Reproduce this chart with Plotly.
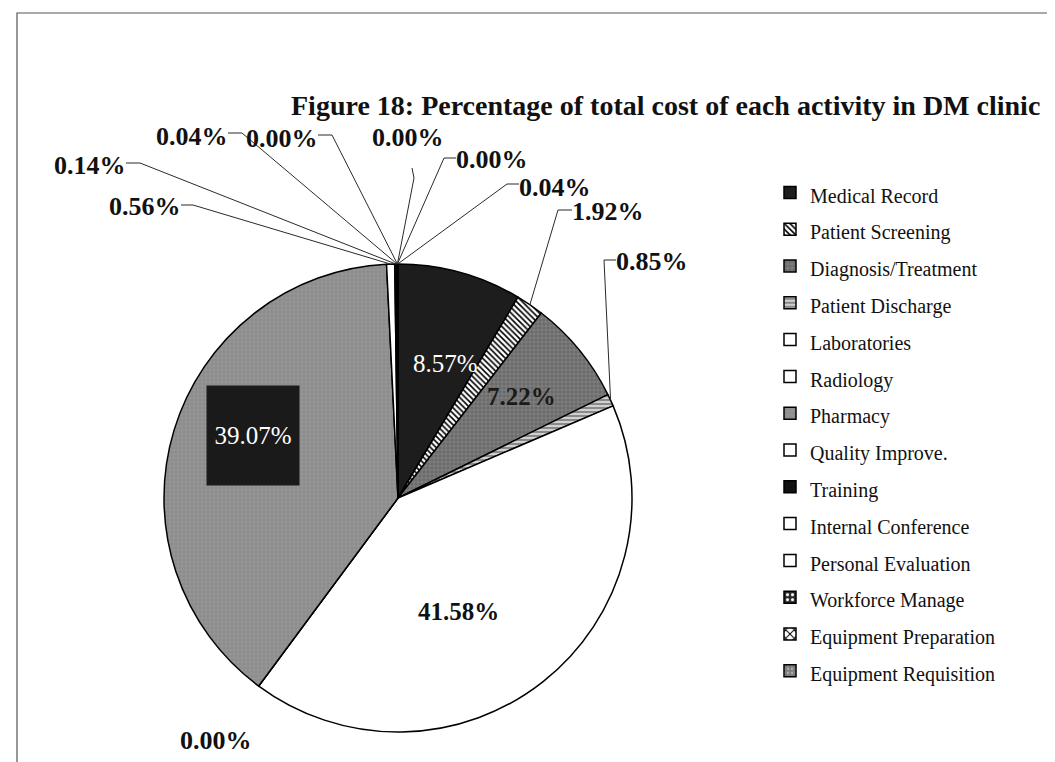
import math
import plotly.graph_objects as go

# ---------------- data ----------------
categories = [
    "Medical Record", "Patient Screening", "Diagnosis/Treatment", "Patient Discharge",
    "Laboratories", "Radiology", "Pharmacy", "Quality Improve.", "Training",
    "Internal Conference", "Personal Evaluation", "Workforce Manage",
    "Equipment Preparation", "Equipment Requisition",
]
percent = [8.57, 1.92, 7.22, 0.85, 41.58, 0.00, 39.07, 0.56, 0.14, 0.04, 0.00, 0.00, 0.00, 0.04]
title_text = "Figure 18: Percentage of total cost of each activity in DM clinic"

# ---------------- layout / style ----------------
W, H = 1055, 762
CX, CY, R = 390, 490, 234
FONT = "Liberation Serif, Times New Roman, serif"

fills = ["#1d1d1d", "#ffffff", "#6a6a6a", "#8a8a8a", "#ffffff", "#ffffff", "#8c8c8c",
         "#ffffff", "#111111", "#ffffff", "#ffffff", "#2a2a2a", "#ffffff", "#7c7c7c"]
shapes = ["", "\\", "+", "-", "", "", "+", "", "", "", "", ".", "x", "."]
fgcols = ["#000000", "#000000", "#9a9a9a", "#ffffff", "#000000", "#000000", "#b0b0b0",
          "#000000", "#000000", "#000000", "#000000", "#ffffff", "#000000", "#b0b0b0"]
psize = [6, 4, 4, 4, 6, 6, 4, 6, 6, 6, 6, 5, 6, 4]
psol = [0.3, 0.4, 0.2, 0.3, 0.3, 0.3, 0.12, 0.3, 0.3, 0.3, 0.3, 0.3, 0.3, 0.3]


def px(x):
    return x / W


def py(y):
    return 1 - y / H


# legend entries: smaller glyphs inside a taller legend row
legend_labels = [f'<span style="font-size:20px">{c}</span>' for c in categories]

fig = go.Figure(go.Pie(
    labels=legend_labels,
    values=percent,
    sort=False,
    direction="clockwise",
    rotation=0,
    textinfo="none",
    hovertext=categories,
    hoverinfo="text+percent",
    marker=dict(
        colors=fills,
        line=dict(color="#000000", width=1.5),
        pattern=dict(shape=shapes, fgcolor=fgcols, bgcolor=fills, size=psize,
                     solidity=psol, fillmode="replace"),
    ),
    domain=dict(x=[px(CX - R), px(CX + R)], y=[py(CY + R), py(CY - R)]),
))

# geometry of each slice (from values)
total = sum(percent)
mid_angles = []
cum = 0.0
for v in percent:
    mid_angles.append(360.0 * (cum + v / 2) / total)
    cum += v


def edge(i, frac=1.0):
    a = math.radians(mid_angles[i])
    return CX + frac * R * math.sin(a), CY - frac * R * math.cos(a)


labels_txt = [f"{v:.2f}%" for v in percent]

annotations = []
shp = []

# inside labels: (index, radial fraction, angle offset, font color, weight, box)
inside = [
    (0, 0.61, 4.2, "#ffffff", "normal", None),
    (2, 0.686, -0.2, "#1a1a1a", "bold", None),
    (4, 0.55, 10.1, "#111111", "bold", None),
    (6, 0.675, 6.4, "#ffffff", "normal", "#1a1a1a"),
]
for i, frac, off, col, wt, box in inside:
    a = math.radians(mid_angles[i] + off)
    x = CX + frac * R * math.sin(a)
    y = CY - frac * R * math.cos(a)
    ann = dict(x=px(x), y=py(y), xref="paper", yref="paper", text=labels_txt[i],
               showarrow=False, xanchor="center", yanchor="middle",
               font=dict(family=FONT, size=25, color=col, weight=wt))
    if box:
        ann.update(bgcolor=box, width=90, height=97, align="center", valign="middle")
    annotations.append(ann)

# outside labels: text centre, elbow of leader, tick end next to text
outside = {
    7: dict(pos=(137, 198), elbow=(185, 197), tick=(173, 197)),
    8: dict(pos=(82, 157), elbow=(132, 155), tick=(118, 155)),
    9: dict(pos=(184, 128), elbow=(234, 125), tick=(220, 125)),
    10: dict(pos=(274, 130), elbow=(324, 127), tick=(310, 127)),
    11: dict(pos=(400, 129), elbow=(406, 170), tick=(404, 160)),
    12: dict(pos=(484, 152), elbow=(436, 150), tick=(448, 150)),
    13: dict(pos=(547, 179), elbow=(499, 176), tick=(511, 176)),
    1: dict(pos=(600, 204), elbow=(550, 202), tick=(564, 202)),
    3: dict(pos=(644, 254), elbow=(596, 252), tick=(608, 252)),
    5: dict(pos=(208, 732), elbow=None, tick=None),
}
for i, d in outside.items():
    x, y = d["pos"]
    annotations.append(dict(x=px(x), y=py(y), xref="paper", yref="paper", text=labels_txt[i],
                            showarrow=False, xanchor="center", yanchor="middle", borderpad=0,
                            font=dict(family=FONT, size=26, color="#111111", weight="bold")))
    if d["elbow"] is not None:
        ex, ey = edge(i)
        bx, by = d["elbow"]
        tx, ty = d["tick"]
        path = f"M {px(ex)} {py(ey)} L {px(bx)} {py(by)} L {px(tx)} {py(ty)}"
        shp.append(dict(type="path", xref="paper", yref="paper", path=path,
                        line=dict(color="#2a2a2a", width=1)))

# title
annotations.append(dict(x=px(1033), y=py(97), xref="paper", yref="paper", text=title_text,
                        showarrow=False, xanchor="right", yanchor="middle", borderpad=0,
                        font=dict(family=FONT, size=28, color="#111111", weight="bold")))

# frame
shp.append(dict(type="rect", xref="paper", yref="paper", x0=px(9), x1=px(1044), y0=py(770), y1=py(5),
                line=dict(color="#555555", width=1.2), fillcolor="rgba(0,0,0,0)"))

fig.update_layout(
    width=W, height=H,
    margin=dict(l=0, r=0, t=0, b=0),
    paper_bgcolor="#ffffff",
    plot_bgcolor="#ffffff",
    font=dict(family=FONT, color="#111111"),
    showlegend=True,
    legend=dict(
        x=px(762), y=py(161), xanchor="left", yanchor="top",
        font=dict(family=FONT, size=26, color="#111111"),
        bgcolor="rgba(0,0,0,0)", borderwidth=0,
        traceorder="normal",
    ),
    annotations=annotations,
    shapes=shp,
)

fig.write_html("out.html")
